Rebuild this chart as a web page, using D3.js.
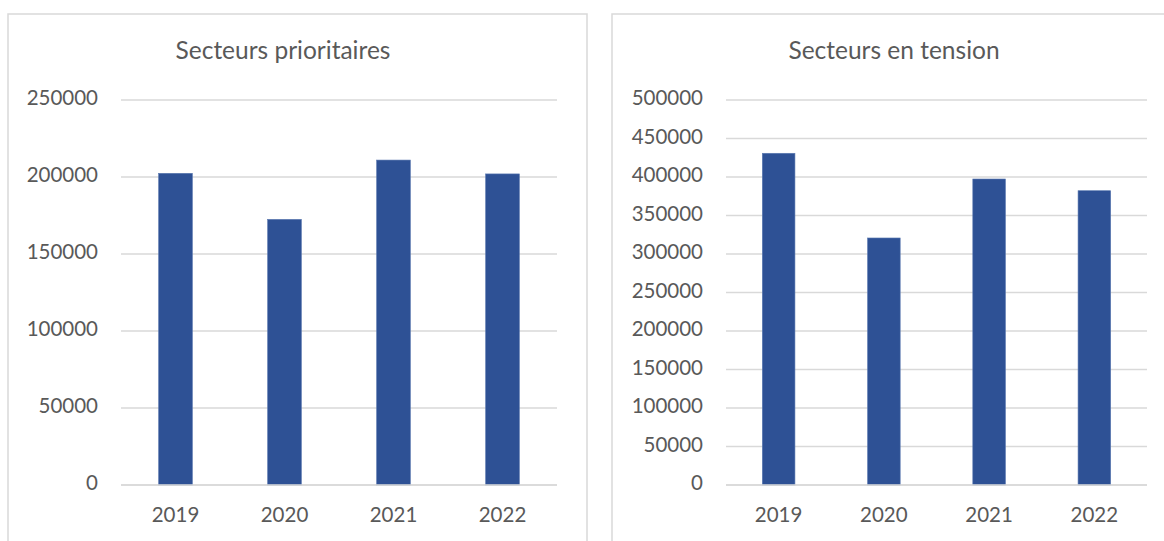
<html>
<head>
<script src="https://d3js.org/d3.v7.min.js"></script>
<style>
body { margin: 0; background: #fff; }
text { font-family: Lato, "Open Sans", sans-serif; fill: #595959; }
.grid line { stroke: #d9d9d9; stroke-width: 1.3px; }
.frame { fill: none; stroke: #d9d9d9; stroke-width: 1.5px; }
</style>
</head>
<body>
<div id="chart"></div>
<script>
// data
var years = ["2019", "2020", "2021", "2022"];
var prioritaires = [202400, 172500, 211000, 202000];
var tension = [430800, 320800, 397400, 382200];
var ticksLeft = [0, 50000, 100000, 150000, 200000, 250000];
var ticksRight = [0, 50000, 100000, 150000, 200000, 250000, 300000, 350000, 400000, 450000, 500000];

var svg = d3.select("#chart").append("svg")
    .attr("width", 1164)
    .attr("height", 541);

function panel(opts) {
  var g = svg.append("g");

  // outer frame
  g.append("rect").attr("class", "frame")
    .attr("x", opts.box[0]).attr("y", opts.box[1])
    .attr("width", opts.box[2]).attr("height", opts.box[3]);

  g.append("text")
    .attr("x", opts.titleX).attr("y", 53)
    .attr("text-anchor", "middle")
    .attr("dominant-baseline", "middle")
    .style("font-size", "24.5px")
    .text(opts.title);

  var x = d3.scaleBand().domain(years).range([opts.x0, opts.x1]).paddingInner(0.69).paddingOuter(0.345);
  var y = d3.scaleLinear().domain([0, opts.max]).range([485, 100]);

  // gridlines
  g.append("g").attr("class", "grid")
    .selectAll("line").data(opts.ticks).enter().append("line")
    .attr("x1", opts.x0).attr("x2", opts.x1)
    .attr("y1", function(d) { return y(d); })
    .attr("y2", function(d) { return y(d); });

  // y labels
  g.append("g").selectAll("text").data(opts.ticks).enter().append("text")
    .attr("x", opts.x0 - 23)
    .attr("y", function(d) { return y(d); })
    .attr("text-anchor", "end")
    .attr("dominant-baseline", "middle")
    .style("font-size", "20.5px")
    .text(function(d) { return d; });

  // bars
  g.append("g").selectAll("rect").data(opts.values).enter().append("rect")
    .attr("x", function(d, i) { return x(years[i]); })
    .attr("width", x.bandwidth())
    .attr("y", function(d) { return y(d); })
    .attr("height", function(d) { return y(0) - y(d); })
    .attr("fill", "#2e5195")
    .attr("stroke", "#5a78b0")
    .attr("stroke-width", 0.6);

  // zero line on top of bars
  g.append("line")
    .attr("x1", opts.x0).attr("x2", opts.x1)
    .attr("y1", y(0)).attr("y2", y(0))
    .style("stroke", "#d9d9d9").style("stroke-width", 1.3);

  // x labels
  g.append("g").selectAll("text").data(years).enter().append("text")
    .attr("x", function(d) { return x(d) + x.bandwidth() / 2; })
    .attr("y", 517)
    .attr("text-anchor", "middle")
    .attr("dominant-baseline", "middle")
    .style("font-size", "20.5px")
    .text(function(d) { return d; });
}

panel({title: "Secteurs prioritaires", titleX: 283, box: [8, 14, 579, 540],
       x0: 121, x1: 557, max: 250000, ticks: ticksLeft, values: prioritaires});
panel({title: "Secteurs en tension", titleX: 894, box: [612, 14, 560, 540],
       x0: 726, x1: 1147, max: 500000, ticks: ticksRight, values: tension});
</script>
</body>
</html>
